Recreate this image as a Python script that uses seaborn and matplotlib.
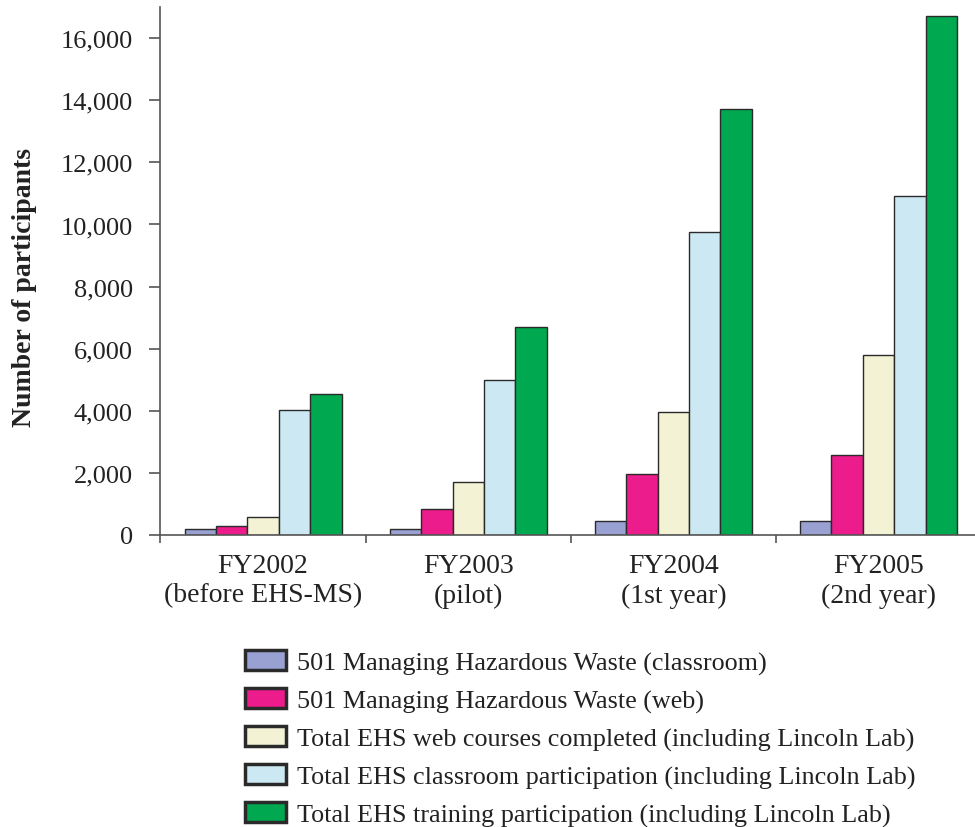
import pandas as pd
import seaborn as sns
import matplotlib.pyplot as plt
import matplotlib.patches as mpatches
from matplotlib.ticker import FuncFormatter, FixedLocator

# fiscal years (x categories)
years = ['FY2002\n(before EHS-MS)', 'FY2003\n(pilot)',
         'FY2004\n(1st year)', 'FY2005\n(2nd year)']

series = ['501 Managing Hazardous Waste (classroom)',
          '501 Managing Hazardous Waste (web)',
          'Total EHS web courses completed (including Lincoln Lab)',
          'Total EHS classroom participation (including Lincoln Lab)',
          'Total EHS training participation (including Lincoln Lab)']

# values
hw_classroom = [190, 200, 430, 430]
hw_web = [280, 830, 1970, 2560]
web_total = [570, 1700, 3960, 5800]
classroom_total = [4030, 4990, 9760, 10930]
training_total = [4520, 6680, 13730, 16730]

colors = ['#99a1d2', '#ec1c8c', '#f3f2d4', '#cce9f3', '#00a84f']

values = [hw_classroom, hw_web, web_total, classroom_total, training_total]
rows = []
for name, vals in zip(series, values):
    for yr, v in zip(years, vals):
        rows.append({'year': yr, 'series': name, 'participants': v})
df = pd.DataFrame(rows)

sns.set_style('white')
plt.rcParams['font.family'] = ['Liberation Serif', 'DejaVu Serif']

fig = plt.figure(figsize=(9.75, 8.28), dpi=100)
ax = fig.add_axes([0.1646, 0.353, 1.0 - 0.1646, 0.990 - 0.353])

sns.barplot(data=df, x='year', y='participants', hue='series',
            order=years, hue_order=series, palette=colors,
            width=0.765, edgecolor='#2a2a2a', linewidth=1.0,
            saturation=1, legend=False, ax=ax)

ax.set_xlim(-0.5, 3.47)
ax.set_ylim(0, 17000)
ax.set_yticks(range(0, 17000, 2000))
ax.yaxis.set_major_formatter(FuncFormatter(lambda v, p: f'{int(v):,}'))
ax.tick_params(axis='y', direction='out', length=8, width=1.2,
               color='#555555', labelsize=19, labelcolor='#222222', pad=12,
               left=True)
ax.tick_params(axis='x', which='major', length=0, labelsize=20,
               labelcolor='#222222', pad=13)
for lbl in ax.get_xticklabels():
    lbl.set_linespacing(1.25)
ax.xaxis.set_minor_locator(FixedLocator([-0.5, 0.5, 1.5, 2.5]))
ax.tick_params(axis='x', which='minor', direction='out', length=6,
               width=1.2, color='#555555', bottom=True)
ax.set_xlabel('')
ax.set_ylabel('Number of participants', fontsize=20, fontweight='bold',
              color='#222222')
ax.yaxis.set_label_coords(-0.152, 0.47)

for side in ['top', 'right']:
    ax.spines[side].set_visible(False)
for side in ['left', 'bottom']:
    ax.spines[side].set_color('#555555')
    ax.spines[side].set_linewidth(1.2)

handles = [mpatches.Patch(facecolor=c, edgecolor='#2a2a2a', linewidth=2.5,
                          label=s) for c, s in zip(colors, series)]
fig.legend(handles=handles, loc='upper left',
           bbox_to_anchor=(232 / 975, 1 - 638 / 828), frameon=False,
           fontsize=18.8, handlelength=1.55, handleheight=0.8,
           handletextpad=0.45, labelspacing=0.52, borderpad=0,
           labelcolor='#222222')

fig.savefig('out.png', dpi=100)
